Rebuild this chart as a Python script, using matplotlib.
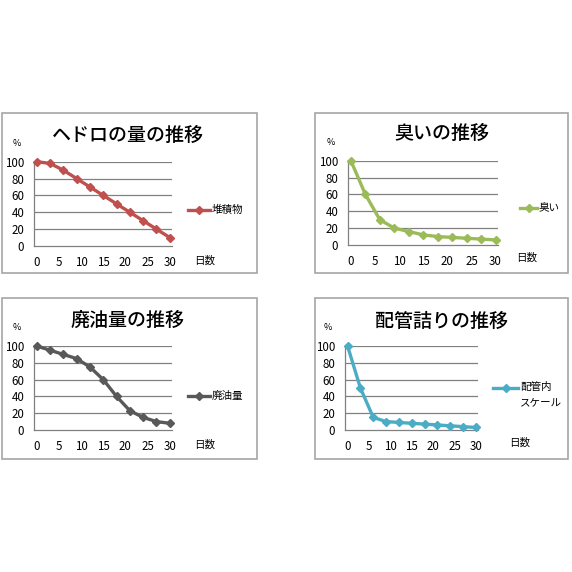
import matplotlib.pyplot as plt
from matplotlib.patches import Rectangle

plt.rcParams['font.family'] = ['Noto Sans CJK JP', 'DejaVu Sans']

W = H = 572

days = [0, 3, 6, 9, 12, 15, 18, 21, 24, 27, 30]
x_ticks = [0, 5, 10, 15, 20, 25, 30]
y_ticks = [0, 20, 40, 60, 80, 100]

titles = ['ヘドロの量の推移', '臭いの推移', '廃油量の推移', '配管詰りの推移']
series_names = ['堆積物', '臭い', '廃油量', '配管内\nスケール']
sludge = [100, 98, 90, 80, 70, 60, 50, 40, 30, 20, 10]
smell = [100, 60, 30, 20, 16, 12, 10, 9, 8, 7, 6]
waste_oil = [100, 95, 90, 85, 75, 60, 40, 23, 15, 10, 8]
scale = [100, 50, 15, 10, 9, 8, 7, 6, 5, 4, 3]
colors = ['#c0504d', '#9bbb59', '#595959', '#4bacc6']

# pixel layout of each panel: box, plot area, title, legend, axis label
panels = [
    dict(box=(2, 113, 255, 160), plot=(34, 161.7, 138, 84.3), title=(128, 135),
         leg=(188, 210, 210), xlab=(205, 261)),
    dict(box=(315, 113, 253, 160), plot=(348, 160.7, 150, 84.3), title=(442, 133),
         leg=(520, 537, 208), xlab=(527, 258)),
    dict(box=(2, 298, 255, 161), plot=(34, 346, 138, 84), title=(128, 320),
         leg=(188, 210, 396), xlab=(205, 445)),
    dict(box=(315, 298, 253, 161), plot=(345, 346, 133, 84), title=(442, 321),
         leg=(493, 518, 388), xlab=(520, 443)),
]


def frac(x, y, w, h):
    return [x / W, 1 - (y + h) / H, w / W, h / H]


fig = plt.figure(figsize=(W / 100, H / 100), dpi=100)

for p, title, name, vals, col in zip(panels, titles, series_names,
                                     [sludge, smell, waste_oil, scale], colors):
    bx, by, bw, bh = p['box']
    fig.patches.append(Rectangle((bx / W, 1 - (by + bh) / H), bw / W, bh / H,
                                 transform=fig.transFigure, fill=False,
                                 edgecolor='#a6a6a6', lw=1.2))

    ax = fig.add_axes(frac(*p['plot']))
    ax.plot(days, vals, color=col, lw=2.4, marker='D', ms=4.5, clip_on=False, zorder=3)
    ax.set_xlim(-0.6, 30.5)
    ax.set_ylim(0, 100)
    ax.set_xticks(x_ticks)
    ax.set_yticks(y_ticks)
    ax.tick_params(length=0, labelsize=8.3, pad=7, colors='#000000')
    for y in y_ticks[1:]:
        ax.axhline(y, color='#808080', lw=0.9, zorder=1)
    for s in ['top', 'right']:
        ax.spines[s].set_visible(False)
    for s in ['left', 'bottom']:
        ax.spines[s].set_color('#808080')
        ax.spines[s].set_linewidth(0.9)
    ax.patch.set_alpha(0)

    # y unit
    fig.text((p['plot'][0] - 17) / W, 1 - (p['plot'][1] - 18) / H, '%',
             fontsize=6.5, ha='center', va='center')

    tx, ty = p['title']
    fig.text(tx / W, 1 - ty / H, title, fontsize=13.7, fontweight='medium',
             ha='center', va='center')

    lx0, lx1, ly = p['leg']
    fig.lines.append(plt.Line2D([lx0 / W, lx1 / W], [1 - ly / H, 1 - ly / H],
                                transform=fig.transFigure, color=col, lw=2.4))
    fig.lines.append(plt.Line2D([(lx0 + lx1) / 2 / W], [1 - ly / H],
                                transform=fig.transFigure, color=col,
                                marker='D', ms=4.5))
    if '\n' in name:
        fig.text((lx1 + 2) / W, 1 - (ly - 6) / H, name, fontsize=7.6, ha='left',
                 va='top', linespacing=1.6)
    else:
        fig.text((lx1 + 2) / W, 1 - ly / H, name, fontsize=7.6, ha='left',
                 va='center')

    xx, xy = p['xlab']
    fig.text(xx / W, 1 - xy / H, '日数', fontsize=7.6, ha='center', va='center')

fig.savefig('out.png', dpi=100, facecolor='white')
